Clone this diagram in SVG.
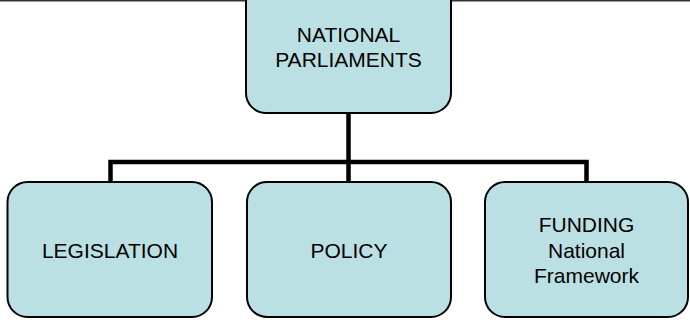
<svg xmlns="http://www.w3.org/2000/svg" width="690" height="320" viewBox="0 0 690 320">
<style>
.box{fill:#BBE0E3;stroke:#000;stroke-width:2}
.lbl{font-family:"Liberation Sans",Arial,sans-serif;font-size:21px;fill:#000;text-anchor:middle}
.conn{fill:none;stroke:#000;stroke-width:4.5}
</style>
<rect x="0" y="0" width="690" height="320" fill="#fff"/>
<line x1="0" y1="0.8" x2="690" y2="0.8" stroke="#333" stroke-width="1.6"/>
<g id="connectors">
<path class="conn" d="M348.5,113 V182"/>
<path class="conn" d="M110.5,182 V162 H586.5 V182"/>
</g>
<g id="national-parliaments">
<rect class="box" x="246" y="-40" width="205" height="153" rx="20" ry="20"/>
<text class="lbl" x="348.5" y="41.5">NATIONAL</text>
<text class="lbl" x="348.5" y="66.5">PARLIAMENTS</text>
</g>
<g id="legislation">
<rect class="box" x="7.5" y="182" width="204.5" height="135" rx="20" ry="20"/>
<text class="lbl" x="110" y="258">LEGISLATION</text>
</g>
<g id="policy">
<rect class="box" x="247" y="182" width="204" height="135" rx="20" ry="20"/>
<text class="lbl" x="349" y="258">POLICY</text>
</g>
<g id="funding">
<rect class="box" x="485" y="182" width="203" height="135" rx="20" ry="20"/>
<text class="lbl" x="586.5" y="232">FUNDING</text>
<text class="lbl" x="586.5" y="258">National</text>
<text class="lbl" x="586.5" y="283">Framework</text>
</g>
</svg>
